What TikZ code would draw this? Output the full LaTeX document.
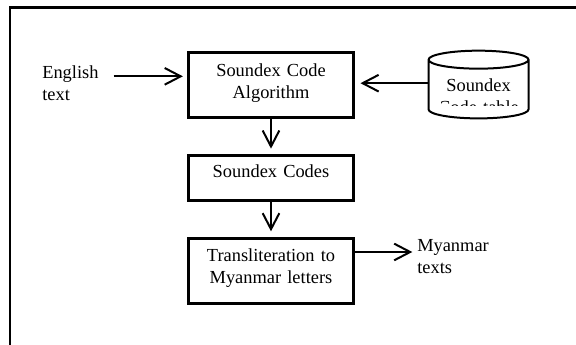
\documentclass[tikz,border=0pt]{standalone}
\usepackage{fontspec}
\setmainfont{Liberation Serif}
\usetikzlibrary{shapes.geometric, arrows.meta, positioning}
\definecolor{cLine}{RGB}{0, 0, 0}
\definecolor{bgWhite}{RGB}{255, 255, 255}
\tikzset{
    procBox/.style={
        rectangle, draw=cLine, line width=2.2pt,
        text width=124pt, align=center, inner sep=0pt,
        text height=17.6pt, text depth=31.1pt,
        font=\fontsize{13.8pt}{16.5pt}\selectfont
    },
    dbShape/.style={
        cylinder, shape border rotate=90, aspect=0.18,
        draw=cLine, line width=1.5pt,
        text width=75pt, text height=14.9pt, text depth=14.9pt,
        inner sep=0pt
    },
    sideText/.style={
        align=left, inner sep=0pt, anchor=base west,
        font=\fontsize{13.8pt}{16.5pt}\selectfont
    },
    flowArrow/.style={
        -{Straight Barb[length=12pt, width=12.5pt]},
        line width=1.5pt, draw=cLine
    }
}
\begin{document}
\begin{tikzpicture}[node distance=26pt]

	\useasboundingbox [fill=bgWhite] (0pt,0pt) rectangle (432pt,-258.75pt);

	% =========================================================
	% Frame
	% =========================================================

	\draw [line width=2pt, cLine] (7.5pt,-258.75pt) |- (432pt,-5.5pt);

	% =========================================================
	% Processing Steps
	% =========================================================

	\node [procBox, anchor=north] (algo) at (203.25pt,-38.6pt) {
		Soundex Code\\Algorithm
	};

	\node [procBox, below=of algo, text height=16.9pt, text depth=16.9pt] (codes) {
		Soundex Codes
	};

	\node [procBox, below=of codes] (translit) {
		Transliteration to\\Myanmar letters
	};

	\draw [flowArrow, shorten >=4pt] (algo.south) -- (codes.north);
	\draw [flowArrow, shorten >=4pt] (codes.south) -- (translit.north);

	% =========================================================
	% Input and Output
	% =========================================================

	\node [sideText, text width=53.25pt] (english) at (31.5pt,-59.25pt) {
		English\\text
	};

	\node [sideText, text width=56pt] (myanmar) at (312.75pt,-189pt) {
		Myanmar\\texts
	};

	\draw [flowArrow, shorten >=3pt]
		([yshift=2pt]english.base east) -- ([yshift=2pt]english.base east -| algo.west);
	\draw [flowArrow, shorten >=3.5pt]
		(translit.east |- myanmar.base west) -- (myanmar.base west);

	% =========================================================
	% Code Table
	% =========================================================

	\node [dbShape, anchor=shape center] (table) at (358.9pt,-63.4pt) {};

	\begin{scope}
		\clip (table.north west) rectangle ([yshift=-16pt]table.shape center -| table.east);
		\node [sideText, anchor=base, align=center, text width=70pt]
			(tabletext) at ([yshift=-5.25pt]table.shape center) {Soundex\\Code table};
	\end{scope}

	\draw [flowArrow, shorten >=4pt]
		([yshift=1pt]table.shape center -| table.west) -- ([yshift=1pt]table.shape center -| algo.east);

\end{tikzpicture}
\end{document}
